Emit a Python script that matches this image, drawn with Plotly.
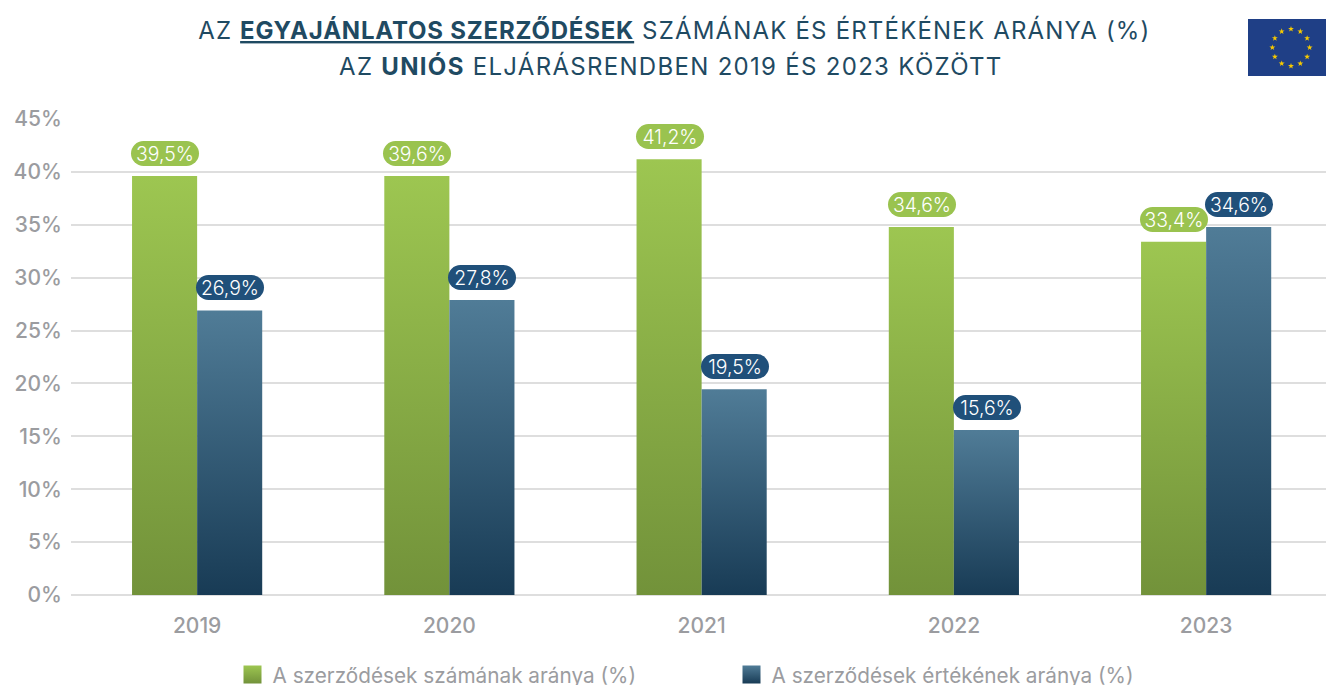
import math
import urllib.parse
import plotly.graph_objects as go

years = ["2019", "2020", "2021", "2022", "2023"]
count_share = [39.6, 39.6, 41.2, 34.8, 33.4]
value_share = [26.9, 27.9, 19.45, 15.6, 34.8]
count_labels = ["39,5%", "39,6%", "41,2%", "34,6%", "33,4%"]
value_labels = ["26,9%", "27,8%", "19,5%", "15,6%", "34,6%"]
y_ticks = [0, 5, 10, 15, 20, 25, 30, 35, 40, 45]
y_tick_labels = ["0%", "5%", "10%", "15%", "20%", "25%", "30%", "35%", "40%", "45%"]
series_names = ["A szerződések számának aránya (%)", "A szerződések értékének aránya (%)"]
title_lines = ["AZ <b><u>EGYAJÁNLATOS SZERZŐDÉSEK</u></b> SZÁMÁNAK ÉS ÉRTÉKÉNEK ARÁNYA (%)",
               "AZ <b>UNIÓS</b> ELJÁRÁSRENDBEN 2019 ÉS 2023 KÖZÖTT"]

W, H = 1326, 685
L, T, B = 71, 119, 90
PW, PH = W - L, H - T - B
GREEN_PILL, BLUE_PILL = "#9ac34f", "#20507a"
GRAY = "#9b9ca0"
GRID = "#dedede"
TITLE = "#1f4a62"

stars = ""
for k in range(12):
    a = math.radians(30 * k)
    cx, cy = 90 + 39 * math.sin(a), 60 - 39 * math.cos(a)
    pts = " ".join(
        f"{cx + (6.5 if j % 2 == 0 else 2.6) * math.sin(math.radians(36 * j)):.1f},"
        f"{cy - (6.5 if j % 2 == 0 else 2.6) * math.cos(math.radians(36 * j)):.1f}"
        for j in range(10))
    stars += f'<polygon points="{pts}" fill="#f6c900"/>'
flag_svg = (f'<svg xmlns="http://www.w3.org/2000/svg" width="180" height="120" viewBox="0 0 180 120">'
            f'<rect width="180" height="120" fill="#1f3f86"/>{stars}</svg>')
flag_uri = "data:image/svg+xml," + urllib.parse.quote(flag_svg)

fig = go.Figure()
fig.add_bar(name=series_names[0], x=years, y=count_share, marker=dict(color="#8fb04a", line_width=0))
fig.add_bar(name=series_names[1], x=years, y=value_share, marker=dict(color="#2f5a76", line_width=0))

annotations = []
for line, cx, cy in zip(title_lines, (674.5, 671), (30, 66)):
    annotations.append(dict(
        xref="paper", yref="paper", x=(cx - L) / PW, y=(H - B - cy) / PH, text=line, showarrow=False,
        xanchor="center", yanchor="middle", font=dict(family="Inter", size=24, color=TITLE)))
for vals, labels, shift, col in [(count_share, count_labels, -32, GREEN_PILL),
                                 (value_share, value_labels, 33, BLUE_PILL)]:
    for i, (v, lab) in enumerate(zip(vals, labels)):
        annotations.append(dict(
            x=i, y=v, xref="x", yref="y", text=lab, showarrow=False, xshift=shift, yshift=10,
            yanchor="bottom", width=68, height=25, bgcolor=col, borderpad=0, borderwidth=0,
            font=dict(family="Inter", size=19.4, color="#ffffff", weight=300),
            align="center", valign="middle"))

step = 252.25
tick_font = dict(family="Inter", size=21, color=GRAY, weight=500)
fig.update_layout(
    width=W, height=H, margin=dict(l=L, r=0, t=T, b=B, autoexpand=False),
    paper_bgcolor="white", plot_bgcolor="white", barmode="group", bargap=0.484, bargroupgap=0,
    xaxis=dict(type="category", categoryorder="array", categoryarray=years,
               range=[-0.5, -0.5 + PW / step], showgrid=False, zeroline=False, showline=False,
               ticks="outside", ticklen=12, tickcolor="rgba(0,0,0,0)", tickfont=tick_font),
    yaxis=dict(range=[0, 45], tickvals=y_ticks, ticktext=y_tick_labels, gridcolor=GRID, gridwidth=2,
               zeroline=True, zerolinecolor=GRID, zerolinewidth=2, showline=False,
               ticks="outside", ticklen=4, tickcolor="rgba(0,0,0,0)", tickfont=tick_font),
    legend=dict(orientation="h", xref="container", yref="container", x=232.5 / W, y=1 - 654.5 / H,
                xanchor="left", yanchor="top", entrywidth=454, entrywidthmode="pixels",
                itemclick=False, traceorder="normal", bgcolor="rgba(0,0,0,0)",
                font=dict(family="Inter", size=20.75, color=GRAY)),
    annotations=annotations,
    images=[dict(source=flag_uri, xref="paper", yref="paper",
                 x=(1248 - L) / PW, y=1 + (T - 19) / PH,
                 sizex=86 / PW, sizey=57 / PH,
                 xanchor="left", yanchor="top", sizing="stretch", layer="above")],
)

post = r"""
document.documentElement.style.overflow='hidden';
document.body.style.margin='0';
var gd=document.getElementById('{plot_id}');
function dress(){
  var svg=gd.querySelector('svg.main-svg');
  var ns='http://www.w3.org/2000/svg';
  var defs=svg.querySelector('defs');
  if(!document.getElementById('gradG')){
    [['gradG','#9dc651','#72923a'],['gradB','#507c97','#183b55']].forEach(function(g){
      var lg=document.createElementNS(ns,'linearGradient');
      lg.setAttribute('id',g[0]);lg.setAttribute('x1','0');lg.setAttribute('x2','0');
      lg.setAttribute('y1','0');lg.setAttribute('y2','1');
      [[0,g[1]],[1,g[2]]].forEach(function(s){
        var st=document.createElementNS(ns,'stop');
        st.setAttribute('offset',s[0]);st.setAttribute('stop-color',s[1]);lg.appendChild(st);});
      defs.appendChild(lg);});
  }
  var ids=['gradG','gradB'];
  gd.querySelectorAll('.barlayer .trace').forEach(function(t,i){
    t.querySelectorAll('path').forEach(function(p){p.style.setProperty('fill','url(#'+ids[i]+')');});});
  gd.querySelectorAll('.legend .traces').forEach(function(t,i){
    t.querySelectorAll('.legendpoints path').forEach(function(p){
      p.setAttribute('d','M9,9H-9V-9H9Z');p.style.setProperty('fill','url(#'+ids[i]+')');});});
  gd.querySelectorAll('.annotation rect.bg').forEach(function(r){
    r.setAttribute('rx','12.5');r.setAttribute('ry','12.5');});
  gd.querySelectorAll('.annotation[data-index="0"] text').forEach(function(t){
    t.style.letterSpacing='1.18px';
    t.querySelectorAll('tspan').forEach(function(s){
      if((s.getAttribute('style')||'').indexOf('bold')>=0){s.style.letterSpacing='0.8px';}});});
  gd.querySelectorAll('.annotation[data-index="1"] text').forEach(function(t){
    t.style.letterSpacing='1.3px';});
}
dress();
gd.on('plotly_afterplot',dress);
"""
fig.write_html("out.html", post_script=post, config=dict(displayModeBar=False))
